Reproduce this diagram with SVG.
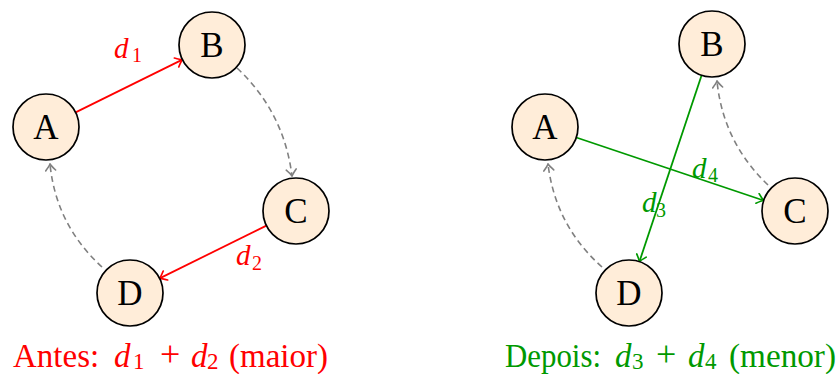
<svg xmlns="http://www.w3.org/2000/svg" width="839" height="374" viewBox="0 0 839 374">
  <style>
    .node circle { fill: #FFEDD9; stroke: #000; stroke-width: 1.7; }
    .node text { font-family: "Liberation Serif", "DejaVu Serif", serif; font-size: 35px; text-anchor: middle; fill: #000; }
    .red { stroke: #FF0000; stroke-width: 1.8; fill: none; }
    .green { stroke: #009900; stroke-width: 1.8; fill: none; }
    .gray { stroke: #808080; stroke-width: 1.6; fill: none; stroke-dasharray: 6 4; }
    .lbl { font-family: "Liberation Serif", "DejaVu Serif", serif; font-style: italic; font-size: 29px; }
    .sub { font-family: "Liberation Serif", "DejaVu Serif", serif; font-style: normal; font-size: 20px; }
    .cap { font-family: "Liberation Serif", "DejaVu Serif", serif; font-size: 33px; }
    .capsub { font-family: "Liberation Serif", "DejaVu Serif", serif; font-size: 23px; }
    .op { font-family: "Liberation Serif", "DejaVu Serif", serif; font-size: 36px; }
    .it { font-style: italic; }
  </style>
  <defs>
    <marker id="to-red" viewBox="-8 -6 9 12" markerWidth="9" markerHeight="12" refX="0" refY="0" orient="auto" markerUnits="userSpaceOnUse">
      <path d="M -6.5,-5 Q -2,-1 0,0 Q -2,1 -6.5,5" fill="none" stroke="#FF0000" stroke-width="1.7" stroke-linecap="round"/>
    </marker>
    <marker id="to-green" viewBox="-8 -6 9 12" markerWidth="9" markerHeight="12" refX="0" refY="0" orient="auto" markerUnits="userSpaceOnUse">
      <path d="M -6.5,-5 Q -2,-1 0,0 Q -2,1 -6.5,5" fill="none" stroke="#009900" stroke-width="1.7" stroke-linecap="round"/>
    </marker>
    <marker id="to-gray" viewBox="-8 -6 9 12" markerWidth="9" markerHeight="12" refX="0" refY="0" orient="auto" markerUnits="userSpaceOnUse">
      <path d="M -6.5,-5 Q -2,-1 0,0 Q -2,1 -6.5,5" fill="none" stroke="#808080" stroke-width="1.6" stroke-linecap="round"/>
    </marker>
  </defs>

  <!-- connectors -->
  <g id="edges">
    <!-- left: before -->
    <line class="red" x1="75.6" y1="112.4" x2="182.4" y2="59.6" marker-end="url(#to-red)"/>
    <line class="red" x1="266.4" y1="225.6" x2="159.6" y2="278.4" marker-end="url(#to-red)"/>
    <path class="gray" d="M 237,68 Q 284,112 292,176" marker-end="url(#to-gray)"/>
    <path class="gray" d="M 102,267 Q 56,225 50,164" marker-end="url(#to-gray)"/>
    <!-- right: after -->
    <line class="green" x1="576.3" y1="137.5" x2="763.7" y2="200.5" marker-end="url(#to-green)"/>
    <line class="green" x1="701.6" y1="75.3" x2="639.4" y2="261.7" marker-end="url(#to-green)"/>
    <path class="gray" d="M 768,185 Q 723,142 717,81" marker-end="url(#to-gray)"/>
    <path class="gray" d="M 602,267 Q 555.5,225.7 548,164" marker-end="url(#to-gray)"/>
  </g>

  <!-- edge labels -->
  <g id="edge-labels">
    <text class="lbl" fill="#FF0000" x="114" y="58">d<tspan class="sub" x="132" y="62">1</tspan></text>
    <text class="lbl" fill="#FF0000" x="236" y="265">d<tspan class="sub" x="252" y="270">2</tspan></text>
    <text class="lbl" fill="#009900" x="692" y="178">d<tspan class="sub" x="708" y="182">4</tspan></text>
    <text class="lbl" fill="#009900" x="642" y="212">d<tspan class="sub" x="656" y="217">3</tspan></text>
  </g>

  <!-- left nodes -->
  <g id="L-A" class="node"><circle cx="46" cy="127" r="33"/><text x="46" y="139">A</text></g>
  <g id="L-B" class="node"><circle cx="212" cy="45" r="33"/><text x="212" y="57">B</text></g>
  <g id="L-C" class="node"><circle cx="296" cy="211" r="33"/><text x="296" y="223">C</text></g>
  <g id="L-D" class="node"><circle cx="130" cy="293" r="33"/><text x="130" y="305">D</text></g>

  <!-- right nodes -->
  <g id="R-A" class="node"><circle cx="545" cy="127" r="33"/><text x="545" y="139">A</text></g>
  <g id="R-B" class="node"><circle cx="712" cy="44" r="33"/><text x="712" y="56">B</text></g>
  <g id="R-C" class="node"><circle cx="795" cy="211" r="33"/><text x="795" y="223">C</text></g>
  <g id="R-D" class="node"><circle cx="629" cy="293" r="33"/><text x="629" y="305">D</text></g>

  <!-- captions -->
  <g id="caption-before" fill="#FF0000">
    <text class="cap" x="13" y="367">Antes:</text>
    <text class="cap it" x="114" y="367">d</text>
    <text class="capsub" x="133" y="369">1</text>
    <text class="op" x="160" y="366">+</text>
    <text class="cap it" x="191" y="367">d</text>
    <text class="capsub" x="207" y="369">2</text>
    <text class="cap" x="229" y="367">(maior)</text>
  </g>
  <g id="caption-after" fill="#009900">
    <text class="cap" x="505" y="367" textLength="96" lengthAdjust="spacingAndGlyphs">Depois:</text>
    <text class="cap it" x="615" y="367">d</text>
    <text class="capsub" x="632" y="369">3</text>
    <text class="op" x="656" y="366">+</text>
    <text class="cap it" x="688" y="367">d</text>
    <text class="capsub" x="705" y="369">4</text>
    <text class="cap" x="729" y="367" textLength="107" lengthAdjust="spacingAndGlyphs">(menor)</text>
  </g>
</svg>
